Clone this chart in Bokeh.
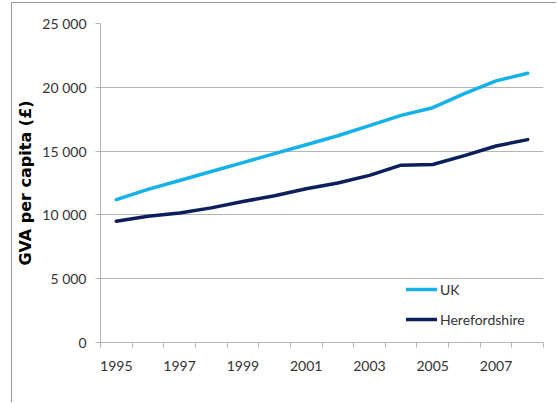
from bokeh.plotting import figure
from bokeh.models import FixedTicker, Range1d, Legend, LegendItem
from bokeh.embed import file_html
from bokeh.resources import INLINE

# GVA per capita (£), 1995-2008
years = list(range(1995, 2009))
uk = [11200, 12000, 12700, 13400, 14100, 14800, 15500,
      16200, 17000, 17800, 18400, 19500, 20500, 21100]
herefordshire = [9500, 9900, 10150, 10550, 11050, 11500, 12050,
                 12500, 13100, 13900, 13950, 14650, 15400, 15900]

series_names = ["UK", "Herefordshire"]
y_ticks = [0, 5000, 10000, 15000, 20000, 25000]
y_tick_labels = ["0", "5 000", "10 000", "15 000", "20 000", "25 000"]
x_label_years = [1995, 1997, 1999, 2001, 2003, 2005, 2007]

UK_COLOR = "#14b2e8"
HEREFORD_COLOR = "#0c1f5c"
GRID = "#b4b4b4"
TEXT = "#333333"
LABEL_FONT = "Lato"

p = figure(
    width=545, height=400,
    output_backend="svg", toolbar_location=None,
    x_range=Range1d(years[0] - 0.5, years[-1] + 0.5),
    y_range=Range1d(y_ticks[0], y_ticks[-1]),
    min_border_left=88, min_border_right=14,
    min_border_top=20, min_border_bottom=61,
)
# chart-area border on the left and top edges only
p.styles = {
    "margin-left": "11px",
    "margin-top": "2px",
    "border-left": "1px solid #9a9a9a",
    "border-top": "1px solid #9a9a9a",
}
p.outline_line_color = None
p.background_fill_color = "white"
p.border_fill_color = "white"

# y axis
p.yaxis.ticker = FixedTicker(ticks=y_ticks)
p.yaxis.major_label_overrides = {t: s for t, s in zip(y_ticks, y_tick_labels)}
p.yaxis.axis_label = "GVA per capita (£)"
p.yaxis.axis_label_text_font = "DejaVu Sans"
p.yaxis.axis_label_text_font_style = "bold"
p.yaxis.axis_label_text_font_size = "16px"
p.yaxis.axis_label_text_color = "black"
p.yaxis.axis_label_standoff = 4
p.yaxis.major_label_text_font = LABEL_FONT
p.yaxis.major_label_text_font_size = "14px"
p.yaxis.major_label_text_color = TEXT
p.yaxis.major_label_standoff = 9
p.yaxis.major_tick_out = 5
p.yaxis.major_tick_in = 0
p.yaxis.minor_tick_line_color = None
p.yaxis.axis_line_color = GRID
p.yaxis.major_tick_line_color = GRID

# x axis: labels on every other year, tick marks between years
p.xaxis.ticker = FixedTicker(
    ticks=x_label_years,
    minor_ticks=[y - 0.5 for y in years] + [years[-1] + 0.5],
)
p.xaxis.major_label_overrides = {y: str(y) for y in x_label_years}
p.xaxis.major_label_text_font = LABEL_FONT
p.xaxis.major_label_text_font_size = "14px"
p.xaxis.major_label_text_color = TEXT
p.xaxis.major_label_standoff = 13
p.xaxis.major_tick_line_color = None
p.xaxis.major_tick_out = 5
p.xaxis.major_tick_in = 0
p.xaxis.minor_tick_out = 5
p.xaxis.minor_tick_in = 0
p.xaxis.minor_tick_line_color = GRID
p.xaxis.axis_line_color = GRID

p.xgrid.visible = False
p.ygrid.grid_line_color = GRID
p.ygrid.grid_line_width = 1

r_uk = p.line(years, uk, line_color=UK_COLOR, line_width=3.5,
              line_join="round", line_cap="round")
r_h = p.line(years, herefordshire, line_color=HEREFORD_COLOR, line_width=3.5,
             line_join="round", line_cap="round")

legend = Legend(
    items=[LegendItem(label=series_names[0], renderers=[r_uk]),
           LegendItem(label=series_names[1], renderers=[r_h])],
    location=(306, 13),
    padding=0, margin=0, spacing=10,
    glyph_width=31, glyph_height=20, label_height=20,
    label_standoff=3,
    label_text_font=LABEL_FONT, label_text_font_size="14px",
    label_text_color=TEXT,
    border_line_color=None, background_fill_alpha=0,
)
p.add_layout(legend, "center")

open("out.html", "w").write(file_html(p, INLINE))
